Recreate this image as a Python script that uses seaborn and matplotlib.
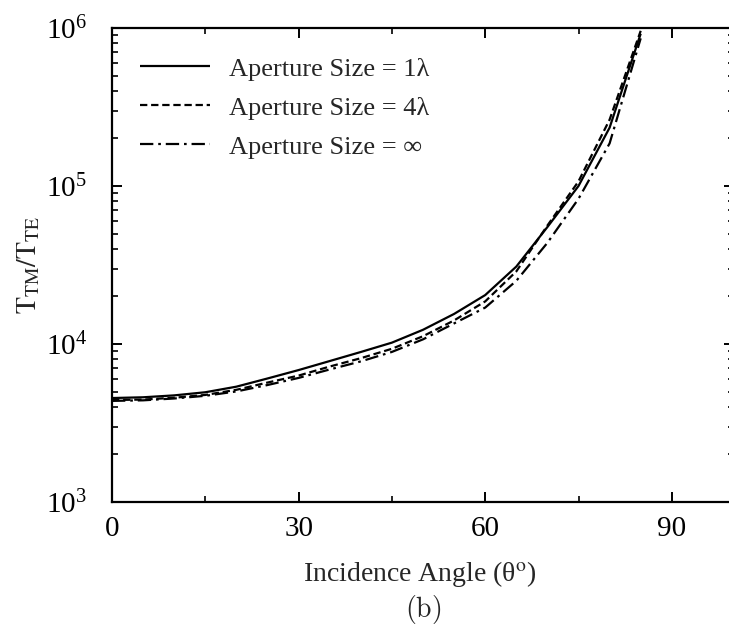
import numpy as np
import pandas as pd
import matplotlib
matplotlib.use("Agg")
import matplotlib.pyplot as plt
from matplotlib.ticker import LogLocator, MultipleLocator, NullFormatter
from matplotlib.font_manager import FontProperties
import seaborn as sns

# ---- data ----
angles = [0, 5, 10, 15, 20, 25, 30, 35, 40, 45, 50, 55, 60, 65, 70, 75, 80, 85]
ratio_1lambda = [4550, 4600, 4730, 4950, 5370, 6050, 6840, 7800, 8900, 10200,
                 12300, 15500, 20400, 30900, 55000, 100000, 234000, 920000]
ratio_4lambda = [4420, 4450, 4570, 4760, 5130, 5700, 6310, 7200, 8130, 9330,
                 11200, 14100, 18600, 28800, 56200, 107000, 263000, 960000]
ratio_inf = [4365, 4400, 4520, 4700, 5010, 5500, 6100, 6900, 7760, 8910,
             10700, 13500, 17000, 25100, 43700, 83000, 186000, 860000]
series_labels = ["Aperture Size = 1λ", "Aperture Size = 4λ", "Aperture Size = ∞"]
x_ticks = [0, 30, 60, 90]

sns.set_style("white")
plt.rcParams["font.family"] = ["Liberation Serif", "DejaVu Serif"]
plt.rcParams["mathtext.fontset"] = "stix"

fig = plt.figure(figsize=(7.29, 6.39), dpi=100)
ax = fig.add_axes([112 / 729, (639 - 502) / 639, (734 - 112) / 729, (502 - 28) / 639])

styles = [(0, ()), (0, (3.3, 1.7)), (0, (6, 2.2, 1.2, 2.2))]
for vals, lab, ls in zip([ratio_1lambda, ratio_4lambda, ratio_inf], series_labels, styles):
    df = pd.DataFrame({"angle": angles, "ratio": vals})
    sns.lineplot(data=df, x="angle", y="ratio", ax=ax, color="black", lw=1.6,
                 linestyle=ls, label=lab)

ax.set_yscale("log")
ax.set_xlim(0, 100)
ax.set_ylim(1e3, 1e6)
ax.set_xticks(x_ticks)
ax.xaxis.set_minor_locator(MultipleLocator(15))
ax.yaxis.set_major_locator(LogLocator(base=10))
ax.yaxis.set_minor_locator(LogLocator(base=10, subs=np.arange(2, 10)))
ax.yaxis.set_minor_formatter(NullFormatter())

for s in ax.spines.values():
    s.set_linewidth(1.6)
    s.set_color("black")
ax.tick_params(which="both", direction="in", top=True, right=True, bottom=True,
               left=True, colors="black")
ax.tick_params(which="major", length=7, width=1.4, labelsize=21, pad=10)
ax.tick_params(axis="y", which="major", pad=18)
ax.tick_params(which="minor", length=4, width=1.2)

ax.set_xlabel("Incidence Angle (θ$^{\\rm o}$)", fontsize=20)
ax.set_ylabel(r"$\mathrm{T}_{\mathrm{TM}}/\mathrm{T}_{\mathrm{TE}}$", fontsize=20)
ax.yaxis.set_label_coords(-0.112, 0.5)
ax.xaxis.set_label_coords(0.495, -0.12)

leg = ax.legend(loc="upper left", bbox_to_anchor=(0.02, 0.972), frameon=False,
                fontsize=19, handlelength=2.65, handletextpad=0.7, labelspacing=0.59,
                borderaxespad=0.2)

fp = FontProperties(family="DejaVu Serif", size=20)
fp.set_math_fontfamily("cm")
fig.text(423 / 729, 1 - 609 / 639, r"$\mathrm{(b)}$", fontproperties=fp,
         ha="center", va="center")

fig.savefig("out.png", dpi=100)
